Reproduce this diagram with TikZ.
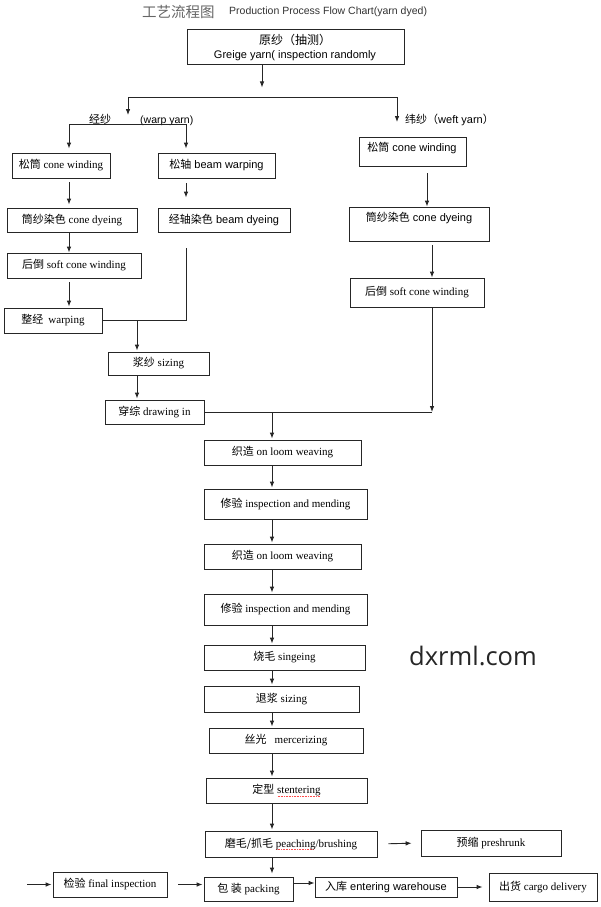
\documentclass[tikz,border=0pt]{standalone}
\usepackage{fontspec}
\setmainfont{Liberation Serif}
\setsansfont{Liberation Sans}
\newfontfamily\cjk{Noto Sans CJK SC}
\newfontfamily\wm{Open Sans}
\usetikzlibrary{arrows.meta}
\newcommand\sq[1]{\setbox0\hbox{#1}\rlap{\color{red!70}\raisebox{-2.2pt}{\hbox to\wd0{\leaders\hbox to 1.6pt{\hss\rule{0.9pt}{0.5pt}\hss}\hfill}}}\box0}
\newcommand\bx[7][box]{\node[#1,minimum width={(#5-#3)*1pt},minimum height={(#6-#4)*1pt}] (#2) at ({(#3+#5)/2},{(#4+#6)/2}) {#7};}
\begin{document}
\begin{tikzpicture}[x=1pt,y=-1pt,
  box/.style={draw=black!85,line width=0.9pt,inner sep=0pt,font=\fontsize{11}{13}\selectfont\rmfamily},
  sbox/.style={box,font=\fontsize{11}{13}\selectfont\sffamily},
  txt/.style={inner sep=0pt,font=\fontsize{11}{13}\selectfont\rmfamily},
  stxt/.style={inner sep=0pt,font=\fontsize{11}{13}\selectfont\sffamily},
  ln/.style={draw=black!85,line width=0.9pt},
  arr/.style={ln,-{Latex[length=6pt,width=4.6pt]}}]
\useasboundingbox[fill=white] (0,0) rectangle (600,907);
% title
\node[anchor=west,inner sep=0pt,text=black!60,font=\cjk\fontsize{14.5}{15}\selectfont] (t1) at (142,12) {工艺流程图};
\node[anchor=west,inner sep=0pt,text=black!80,font=\sffamily\fontsize{10.5}{12}\selectfont] (t2) at (229,12) {Production Process Flow Chart(yarn dyed)};
% raw yarn
\bx[sbox]{raw}{187}{29}{404}{64}{}
\node[stxt,align=center] (rawt) at (295,48) {{\cjk\fontsize{12}{13}\selectfont 原纱（抽测）}\\[1pt]Greige yarn( inspection randomly};
% left (warp)
\bx{lcw}{12}{153}{110}{178}{{\cjk 松筒} cone winding}
\bx[sbox]{lbw}{158}{153}{275}{178}{{\cjk 松轴} beam warping}
\bx{lcd}{7}{208}{137}{232}{{\cjk 筒纱染色} cone dyeing}
\bx[sbox]{lbd}{158}{208}{290}{232}{{\cjk 经轴染色} beam dyeing}
\bx{lsw}{7}{253}{141}{278}{{\cjk 后倒} soft cone winding}
\bx{wp}{4}{308}{102}{333}{{\cjk 整经}\hspace{5pt}warping}
\bx{sz}{108}{352}{209}{375}{{\cjk 浆纱} sizing}
\bx{dw}{105}{400}{204}{424}{{\cjk 穿综} drawing in}
% right (weft)
\bx[sbox]{rcw}{359}{137}{466}{166}{}
\node[stxt] (rcwt) at (412,148) {{\cjk 松筒} cone winding};
\bx[sbox]{rcd}{349}{207}{489}{241}{}
\node[stxt] (rcdt) at (419,218) {{\cjk 筒纱染色} cone dyeing};
\bx{rsw}{350}{278}{484}{307}{{\cjk 后倒} soft cone winding}
% main chain
\bx{w1}{204}{440}{361}{465}{{\cjk 织造} on loom weaving}
\bx{m1}{204}{489}{367}{519}{{\cjk 修验} inspection and mending}
\bx{w2}{204}{544}{361}{569}{{\cjk 织造} on loom weaving}
\bx{m2}{204}{594}{367}{625}{{\cjk 修验} inspection and mending}
\bx{sg}{204}{645}{365}{670}{{\cjk 烧毛} singeing}
\bx{ds}{204}{686}{359}{712}{{\cjk 退浆} sizing}
\bx{mc}{209}{728}{363}{753}{{\cjk 丝光}\hspace{8pt}mercerizing}
\bx{st}{206}{778}{367}{803}{{\cjk 定型} \sq{stentering}}
\bx{br}{205}{831}{377}{857}{{\cjk 磨毛/抓毛} \sq{peaching}/brushing}
\bx{pr}{421}{830}{561}{856}{{\cjk 预缩} preshrunk}
\bx{fi}{53}{872}{167}{897}{{\cjk 检验} final inspection}
\bx{pk}{204}{877}{293}{901}{{\cjk 包 装} packing}
\bx[sbox]{wh}{315}{877}{457}{897}{{\cjk 入库} entering warehouse}
\bx{dv}{489}{873}{597}{901}{{\cjk 出货} cargo delivery}
% watermark
\node[anchor=base west,inner sep=0pt,text=black!85,font=\wm\fontsize{25.5}{26}\selectfont] (wmk) at (409,665) {dxrml.com};
% labels
\node[anchor=base west,inner sep=0pt,font=\cjk\fontsize{11}{12}\selectfont] (lwarp) at (89,123) {经纱};
\node[anchor=base west,inner sep=0pt,font=\sffamily\fontsize{10.5}{12}\selectfont] (lwarpe) at (140,123) {(warp yarn)};
\node[anchor=base west,inner sep=0pt,font=\fontsize{11}{12}\selectfont] (lweft) at (405,123) {{\cjk 纬纱（}\sffamily weft yarn{\cjk ）}};
% coordinates
\coordinate (xA) at (262,0);
\coordinate (spL) at (128,97);
\coordinate (spR) at (397,97);
\coordinate (brL) at (69,124);
\coordinate (brR) at (186,124);
\coordinate (xS) at (137,0);
\coordinate (xR) at (432,0);
\coordinate (xR1) at (427,0);
\coordinate (xM) at (272,0);
\coordinate (yb) at (0,883);
\coordinate (inL) at (27,884.5);
% connectors top
\draw[arr] (raw.south -| xA) -- ++(0,23);
\draw[ln] (spL) -- (spR);
\draw[arr] (spL) -- ++(0,18);
\draw[arr] (spR) -- ++(0,25);
\draw[ln] (brL) -- (brR);
\draw[arr,shorten >=4pt] (brL) -- (lcw.north -| brL);
\draw[arr,shorten >=4pt] (brR) -- (lbw.north -| brR);
\draw[arr,shorten <=4pt,shorten >=3pt] (lcw.south -| brL) -- (lcd.north -| brL);
\draw[arr,shorten <=5pt,shorten >=10pt] (lbw.south -| brR) -- (lbd.north -| brR);
\draw[arr] (lcd.south -| brL) -- (lsw.north -| brL);
\draw[arr,shorten <=4pt,shorten >=1pt] (lsw.south -| brL) -- (wp.north -| brL);
\draw[ln,shorten <=16pt] (lbd.south -| brR) |- (wp.east);
\draw[arr,shorten >=1pt] (wp.east -| xS) -- (sz.north -| xS);
\draw[arr,shorten >=1pt] (sz.south -| xS) -- (dw.north -| xS);
% right
\draw[arr,shorten <=7pt] (rcw.south -| xR1) -- (rcd.north -| xR1);
\draw[arr,shorten <=4pt] (rcd.south -| xR) -- (rsw.north -| xR);
\draw[arr] (rsw.south -| xR) -- (dw.east -| xR);
\draw[ln] (dw.east) -- (dw.east -| xR);
% main chain
\draw[arr,shorten >=1pt] (dw.east -| xM) -- (w1.north -| xM);
\foreach \a/\b in {w1/m1,m1/w2,w2/m2,m2/sg,sg/ds,ds/mc,mc/st,st/br}
  \draw[arr,shorten >=1pt] (\a.south -| xM) -- (\b.north -| xM);
\draw[arr,shorten >=3pt] (br.south -| xM) -- (pk.north -| xM);
% bottom
\draw[arr,shorten <=11pt,shorten >=9pt] (br.east) -- (pr.west);
\draw[arr,shorten >=1pt] (inL) -- (fi.west);
\draw[arr,shorten <=11pt,shorten >=1pt] (fi.east) -- (fi.east -| pk.west);
\draw[arr] (pk.east |- yb) -- (wh.west |- yb);
\draw[arr,shorten >=6pt] (wh.east) -- (dv.west);
\end{tikzpicture}
\end{document}
